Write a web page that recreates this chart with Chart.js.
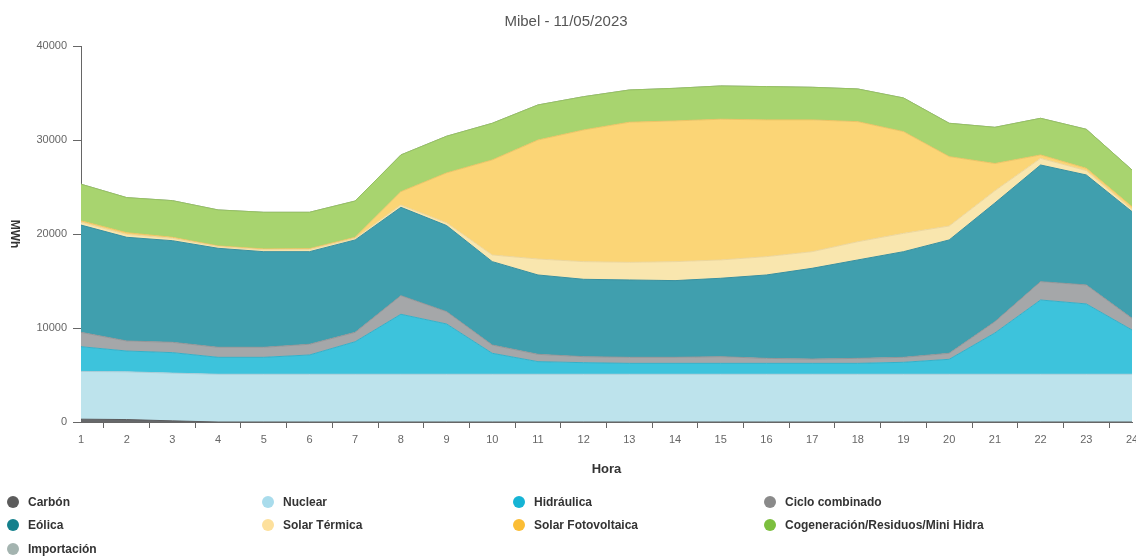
<!DOCTYPE html>
<html>
<head>
<meta charset="utf-8">
<script src="https://cdn.jsdelivr.net/npm/chart.js@4"></script>
<style>
html,body{margin:0;padding:0;background:#fff;}
#wrap{position:relative;width:1136px;height:556px;}
</style>
</head>
<body>
<div id="wrap"><canvas id="c" width="1136" height="556"></canvas></div>
<script>
const hours = ["1","2","3","4","5","6","7","8","9","10","11","12","13","14","15","16","17","18","19","20","21","22","23","24"];
const seriesNames = ["Carbón","Nuclear","Hidráulica","Ciclo combinado","Eólica","Solar Térmica","Solar Fotovoltaica","Cogeneración/Residuos/Mini Hidra","Importación"];
const carbon = [300,260,120,0,0,0,0,0,0,0,0,0,0,0,0,0,0,0,0,0,0,0,0,0];
const nuclear = [5080,5080,5080,5080,5080,5080,5080,5080,5080,5080,5080,5080,5080,5080,5080,5080,5080,5080,5080,5080,5080,5080,5080,5080];
const hidraulica = [2630,2210,2180,1800,1800,2050,3460,6380,5350,2230,1340,1230,1160,1160,1160,1160,1160,1160,1270,1590,4390,7900,7480,4710];
const cicloCombinado = [1530,1070,1100,1070,1070,1140,1000,1980,1310,880,780,640,640,640,710,530,460,530,530,640,1200,1950,2020,1240];
const eolica = [11410,11030,10810,10530,10170,9850,9830,9400,9160,8870,8440,8230,8230,8160,8340,8870,9650,10470,11240,12060,12630,12410,11700,11350];
const solarTermica = [300,300,250,180,200,220,180,250,300,710,1700,1880,1880,2020,1950,1950,1770,1940,1950,1480,1300,710,460,250];
const solarFotovoltaica = [150,190,110,70,90,100,100,1410,5300,10110,12660,14010,14900,14970,14970,14550,14020,12770,10820,7380,2900,360,250,280];
const cogeneracion = [3900,3730,3900,3830,3900,3870,3860,3910,3900,3900,3730,3540,3430,3470,3540,3540,3470,3480,3580,3550,3850,3900,4150,3900];
const importacion = [0,0,0,0,0,0,0,0,0,0,0,0,0,0,0,0,0,0,0,0,0,0,0,0];
const yTicks = [0,10000,20000,30000,40000];

const seriesValues = [carbon,nuclear,hidraulica,cicloCombinado,eolica,solarTermica,solarFotovoltaica,cogeneracion,importacion];
const fillColors = ["#66686a","#bde3ec","#3dc3dc","#a5a7a9","#409fae","#f9e6ae","#fbd576","#a8d46f","#a8b6b2"];
const lineColors = ["#5a5c5e","#a9cdd8","#35b0c8","#949698","#3a909e","#ecd69c","#ecc466","#97c262","#98a6a2"];
const legendColors = ["#5c5c5c","#a9dcec","#16b4d5","#8a8a8a","#14808c","#fde09c","#fbbd35","#7cbf3e","#a4b4b0"];

const datasets = seriesNames.map((n,i)=>({
  label:n,
  data:seriesValues[i],
  backgroundColor:fillColors[i],
  borderColor:lineColors[i],
  borderWidth:1,
  pointRadius:0,
  tension:0,
  fill: i===0 ? 'origin' : '-1'
}));

const customLegend = {
  id:'customLegend',
  afterDraw(chart){
    const ctx = chart.ctx;
    const colX = [13,268,519,770];
    const rowY = [502,525,549];
    ctx.save();
    ctx.font = "bold 12px 'Liberation Sans', Arial, sans-serif";
    ctx.textBaseline = 'middle';
    ctx.textAlign = 'left';
    seriesNames.forEach((n,i)=>{
      const x = colX[i%4], y = rowY[Math.floor(i/4)];
      ctx.beginPath();
      ctx.arc(x,y,6,0,Math.PI*2);
      ctx.fillStyle = legendColors[i];
      ctx.fill();
      ctx.fillStyle = '#333';
      ctx.fillText(n,x+15,y+1);
    });
    // y axis title, rotated clockwise
    ctx.translate(14, chart.chartArea.top + (chart.chartArea.bottom-chart.chartArea.top)/2);
    ctx.rotate(Math.PI/2);
    ctx.textAlign='center';
    ctx.font = "bold 12px 'Liberation Sans', Arial, sans-serif";
    ctx.fillText('MWh',0,0);
    ctx.restore();
  }
};

new Chart(document.getElementById('c'),{
  type:'line',
  data:{labels:hours,datasets},
  plugins:[customLegend],
  options:{
    responsive:false,
    animation:false,
    layout:{padding:{left:0,right:4,top:0,bottom:79}},
    plugins:{
      legend:{display:false},
      tooltip:{enabled:false},
      title:{display:true,text:'Mibel - 11/05/2023',color:'#555',
        font:{family:"'Liberation Sans', Arial, sans-serif",size:15,weight:'normal'},
        padding:{top:13,bottom:15}}
    },
    scales:{
      x:{
        offset:false,
        grid:{display:true,drawOnChartArea:false,offset:true,tickLength:6,color:'#666'},
        border:{display:true,color:'#666',width:1},
        ticks:{color:'#666',font:{family:"'Liberation Sans', Arial, sans-serif",size:11},maxRotation:0,autoSkip:false,padding:5},
        title:{display:true,text:'Hora',color:'#333',font:{family:"'Liberation Sans', Arial, sans-serif",size:13,weight:'bold'},padding:{top:8,bottom:0}},
        afterFit(s){s.height=55;s.paddingRight=0;s.paddingLeft=0;}
      },
      y:{
        stacked:true,
        min:0,max:40000,
        afterBuildTicks(s){s.ticks=yTicks.map(v=>({value:v}));},
        grid:{display:true,drawOnChartArea:false,tickLength:8,color:'#666'},
        border:{display:true,color:'#666',width:1},
        ticks:{color:'#666',font:{family:"'Liberation Sans', Arial, sans-serif",size:11},padding:6,callback:v=>String(v)},
        afterFit(s){s.width=81;}
      }
    }
  }
});
</script>
</body>
</html>
